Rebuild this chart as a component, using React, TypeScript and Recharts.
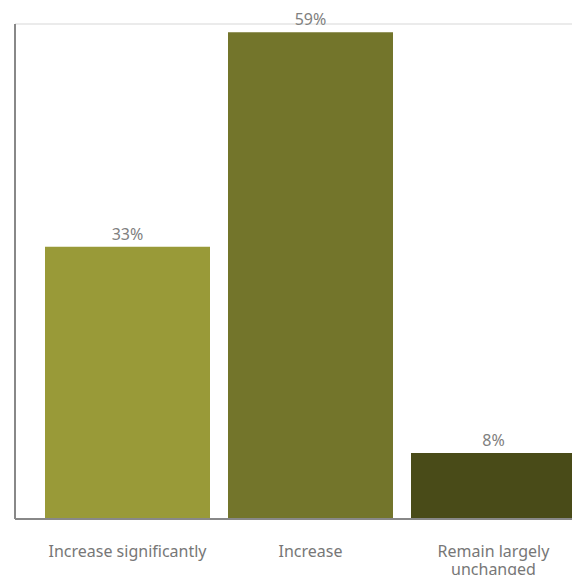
import { BarChart, Bar, XAxis, YAxis, CartesianGrid, Cell, LabelList } from "recharts";

const categories = ["Increase significantly", "Increase", "Remain largely unchanged"];
const shares = [33, 59, 8];
const barColors = ["#999a38", "#73752b", "#494b18"];
const yTicks = [0, 10, 20, 30, 40, 50, 60];

const data = categories.map((name, i) => ({ name, value: shares[i] }));

const FONT = "'Noto Sans', sans-serif";

function wrapLabel(text: string, maxChars: number) {
    const words = text.split(" ");
    const lines: string[] = [];
    let cur = "";
    for (const w of words) {
        const next = cur ? cur + " " + w : w;
        if (next.length > maxChars && cur) {
            lines.push(cur);
            cur = w;
        } else {
            cur = next;
        }
    }
    if (cur) lines.push(cur);
    return lines;
}

const CategoryTick = (props: any) => {
    const { x, y, payload } = props;
    const lines = wrapLabel(String(payload.value), 22);
    return (
        <text x={x} y={y} textAnchor="middle" fill="#777" fontSize={16} fontFamily={FONT}>
            {lines.map((line, i) => (
                <tspan key={i} x={x} dy={i === 0 ? 38 : 18}>
                    {line}
                </tspan>
            ))}
        </text>
    );
};

export default function App() {
    return (
        <div
            style={{
                position: "fixed",
                top: 0,
                left: 0,
                width: 572,
                height: 575,
                overflow: "hidden",
                background: "#fff",
            }}
        >
            <BarChart
                width={585}
                height={600}
                data={data}
                margin={{ top: 24, right: 0, bottom: 0, left: 13 }}
                barCategoryGap={9}
            >
                <CartesianGrid vertical={false} stroke="#e5e5e5" strokeWidth={1.5} />
                <YAxis
                    domain={[0, 60]}
                    ticks={yTicks}
                    width={2}
                    tick={false}
                    tickLine={false}
                    axisLine={{ stroke: "#888", strokeWidth: 2 }}
                />
                <XAxis
                    dataKey="name"
                    height={81}
                    padding={{ left: 21, right: 0 }}
                    tickLine={false}
                    tickSize={0}
                    tickMargin={0}
                    interval={0}
                    axisLine={{ stroke: "#888", strokeWidth: 2 }}
                    tick={<CategoryTick />}
                />
                <Bar dataKey="value" isAnimationActive={false}>
                    {data.map((d, i) => (
                        <Cell key={d.name} fill={barColors[i]} />
                    ))}
                    <LabelList
                        dataKey="value"
                        position="top"
                        offset={7}
                        formatter={(v: any) => `${v}%`}
                        fill="#808080"
                        fontSize={16}
                        fontFamily={FONT}
                    />
                </Bar>
            </BarChart>
        </div>
    );
}
